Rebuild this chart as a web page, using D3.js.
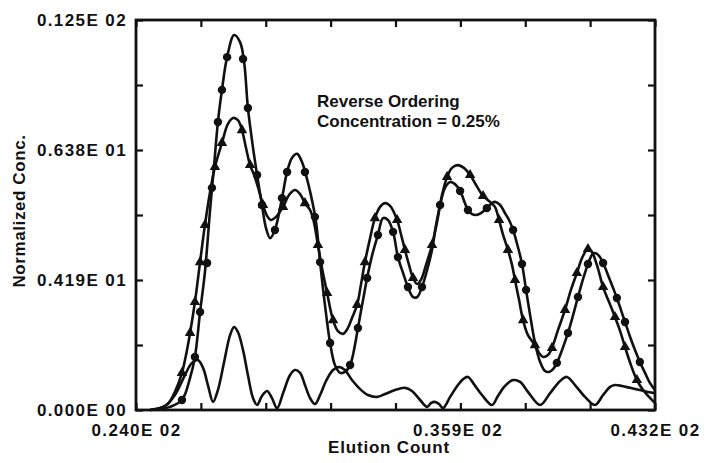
<!DOCTYPE html>
<head>
<meta charset="utf-8">
<title>Reverse Ordering</title>
<script src="https://d3js.org/d3.v7.min.js"></script>
<style>
  body { margin: 0; background: #fff; }
  #chart text { font-family: "Liberation Sans", Arial, sans-serif; font-weight: bold; fill: #111; }
</style>
</head>
<body>
<div id="chart"></div>
<script>

// fitted curve through the circle data (elution count, normalized conc.)
const circleCurve = [
  [24.52,0],[24.89,0.03],[25.26,0.10],[25.70,0.32],[26.00,1.03],[26.18,1.70],[26.37,3.14],
  [26.55,4.42],[26.74,6.41],[26.89,7.85],[27.03,9.23],[27.18,10.26],[27.37,11.31],[27.63,12.02],
  [27.85,11.79],[28.00,11.15],[28.14,9.68],[28.33,8.40],[28.48,7.53],[28.66,6.57],[28.81,5.83],
  [28.96,5.51],[29.14,5.77],[29.40,6.79],[29.59,7.63],[29.77,8.08],[29.96,8.21],[30.14,7.95],
  [30.29,7.53],[30.47,6.89],[30.66,6.03],[30.81,4.74],[30.99,3.37],[31.18,2.15],[31.36,1.44],
  [31.55,1.19],[31.73,1.22],[31.92,1.44],[32.10,2.08],[32.21,2.63],[32.40,3.53],[32.55,4.23],
  [32.73,4.94],[32.95,5.61],[33.14,6.15],[33.32,6.09],[33.51,5.71],[33.69,4.90],[33.88,4.39],
  [34.06,3.94],[34.25,3.62],[34.40,3.62],[34.58,3.94],[34.77,4.49],[34.95,5.13],[35.10,5.93],
  [35.25,6.57],[35.43,7.12],[35.62,7.31],[35.80,7.24],[35.99,7.02],[36.17,6.63],[36.28,6.41],
  [36.43,6.28],[36.58,6.25],[36.76,6.31],[36.98,6.47],[37.17,6.63],[37.28,6.67],[37.47,6.57],
  [37.65,6.31],[37.80,6.09],[37.95,5.77],[38.13,5.22],[38.28,4.68],[38.43,3.85],[38.58,3.04],
  [38.76,2.15],[38.95,1.54],[39.13,1.25],[39.28,1.22],[39.43,1.31],[39.57,1.51],[39.76,1.92],
  [39.98,2.47],[40.17,3.04],[40.35,3.62],[40.54,4.20],[40.72,4.68],[40.87,4.97],[40.98,5.03],
  [41.13,4.94],[41.28,4.71],[41.46,4.33],[41.65,3.91],[41.79,3.59],[41.94,3.21],[42.09,2.82],
  [42.28,2.34],[42.46,1.92],[42.64,1.54],[42.83,1.19],[43.01,0.87],[43.20,0.64]
];

const circleMarks = [
  [25.70,0.32],[26.18,1.70],[26.37,3.14],[26.63,4.71],[26.81,7.12],[27.03,9.23],[27.18,10.26],
  [27.37,11.31],[27.96,11.25],[28.14,9.68],[28.48,7.53],[28.66,6.57],[29.14,5.77],[29.40,6.79],
  [29.59,7.63],[30.25,7.63],[30.62,6.19],[30.81,4.74],[31.18,2.15],[31.92,1.44],[32.21,2.63],
  [32.55,4.23],[32.95,5.61],[33.51,5.71],[33.69,4.90],[34.06,3.94],[34.58,3.94],[35.25,6.57],
  [35.99,7.02],[36.28,6.41],[36.98,6.47],[37.95,5.77],[38.28,4.68],[38.43,3.85],[39.57,1.51],
  [39.98,2.47],[40.35,3.62],[40.72,4.68],[41.28,4.71],[41.79,3.59],[42.09,2.82],[42.64,1.54]
];

// fitted curve through the triangle data
const triangleCurve = [
  [24.52,0],[24.89,0.06],[25.18,0.19],[25.44,0.58],[25.70,1.19],[25.85,1.76],[26.00,2.47],
  [26.18,3.46],[26.37,4.74],[26.55,5.93],[26.74,6.99],[26.92,7.79],[27.18,8.56],[27.40,9.17],
  [27.59,9.36],[27.77,9.29],[27.92,8.97],[28.07,8.40],[28.22,7.85],[28.37,7.53],[28.51,7.15],
  [28.70,6.57],[28.85,6.22],[28.99,6.09],[29.18,6.19],[29.44,6.51],[29.66,6.89],[29.88,7.05],
  [30.07,6.92],[30.25,6.63],[30.44,6.41],[30.58,6.03],[30.73,5.29],[30.88,4.55],[31.07,3.75],
  [31.29,2.88],[31.47,2.53],[31.66,2.44],[31.84,2.63],[31.99,2.95],[32.18,3.37],[32.32,4.01],
  [32.47,4.74],[32.66,5.51],[32.84,6.15],[33.03,6.51],[33.21,6.63],[33.40,6.54],[33.66,6.09],
  [33.80,5.64],[33.95,5.13],[34.10,4.65],[34.25,4.23],[34.40,4.04],[34.54,4.17],[34.73,4.65],
  [34.95,5.29],[35.14,6.03],[35.32,6.89],[35.51,7.47],[35.69,7.76],[35.91,7.85],[36.13,7.76],
  [36.36,7.53],[36.58,7.21],[36.84,6.86],[37.10,6.67],[37.28,6.51],[37.43,6.09],[37.58,5.61],
  [37.76,5.13],[37.91,4.65],[38.02,4.17],[38.17,3.53],[38.32,2.88],[38.50,2.40],[38.76,2.08],
  [38.91,1.83],[39.06,1.70],[39.24,1.76],[39.39,1.99],[39.61,2.56],[39.87,3.21],[40.09,3.85],
  [40.31,4.39],[40.50,4.87],[40.72,5.16],[40.87,5.06],[41.05,4.65],[41.28,3.94],[41.50,3.46],
  [41.72,2.98],[41.91,2.53],[42.09,2.02],[42.31,1.44],[42.53,0.96],[42.76,0.64],[42.98,0.42],
  [43.20,0.22]
];

const triangleMarks = [
  [25.70,1.19],[26.00,2.47],[26.18,3.46],[26.37,4.74],[26.55,5.93],[26.92,7.79],[27.18,8.56],
  [27.92,8.97],[28.22,7.85],[28.70,6.57],[29.44,6.51],[30.25,6.63],[30.73,5.29],[31.07,3.75],
  [31.29,2.88],[32.18,3.37],[32.47,4.74],[32.84,6.15],[33.66,6.09],[33.95,5.13],[34.25,4.23],
  [34.95,5.29],[35.51,7.47],[36.36,7.53],[36.84,6.86],[37.43,6.09],[37.76,5.13],[38.02,4.17],
  [38.32,2.88],[38.76,2.08],[39.39,1.99],[39.87,3.21],[40.31,4.39],[40.72,5.16],[41.28,3.94],
  [41.72,2.98],[42.09,2.02],[42.53,0.96]
];

// difference curve along the bottom (no markers)
const diffCurve = [
  [24.52,0],[25.07,0.13],[25.44,0.48],[25.81,1.12],[26.07,1.51],[26.29,1.60],[26.48,1.35],
  [26.66,0.80],[26.85,0.26],[27.03,0.64],[27.26,1.54],[27.48,2.40],[27.63,2.66],[27.77,2.50],
  [27.96,1.92],[28.14,1.12],[28.33,0.38],[28.48,0.16],[28.66,0.45],[28.85,0.61],[29.03,0.38],
  [29.22,0.06],[29.44,0.54],[29.70,1.12],[29.88,1.28],[30.07,1.19],[30.25,0.80],[30.44,0.38],
  [30.62,0.19],[30.81,0.48],[31.03,0.93],[31.29,1.28],[31.51,1.38],[31.73,1.28],[31.99,0.96],
  [32.29,0.67],[32.58,0.48],[32.92,0.42],[33.21,0.51],[33.58,0.64],[33.95,0.71],[34.21,0.61],
  [34.51,0.32],[34.77,0.10],[34.91,0.22],[35.06,0.26],[35.21,0.19],[35.36,0.06],[35.62,0.42],
  [35.91,0.80],[36.10,0.99],[36.28,1.06],[36.50,0.83],[36.80,0.48],[37.17,0.16],[37.39,0.45],
  [37.65,0.77],[37.95,0.96],[38.21,0.90],[38.50,0.58],[38.95,0.16],[39.32,0.54],[39.69,0.93],
  [39.94,1.06],[40.24,0.80],[40.61,0.42],[40.98,0.16],[41.28,0.48],[41.54,0.74],[41.72,0.80],
  [41.98,0.77],[42.28,0.71],[42.64,0.64],[42.94,0.58],[43.20,0.54]
];

const xTicks = [24.0, 26.4, 28.8, 31.2, 33.6, 36.0, 38.4, 40.8, 43.2];
const yTicks = [0, 2.0833, 4.1667, 6.25, 8.3333, 10.4167, 12.5];
const xLabelValues = [24.0, 35.9, 43.2];
const xTickLabels = ["0.240E 02", "0.359E 02", "0.432E 02"];
const yLabelValues = [0, 4.1667, 8.3333, 12.5];
const yTickLabels = ["0.000E 00", "0.419E 01", "0.638E 01", "0.125E 02"];
const noteLines = ["Reverse Ordering", "Concentration = 0.25%"];


function createSVG() {
  return d3.select("#chart").append("svg")
    .attr("width", 705)
    .attr("height", 463);
}

function drawChart(svg) {
  const left = 136, right = 655, top = 20, bottom = 410;
  const x = d3.scaleLinear().domain([24.0, 43.2]).range([left, right]);
  const y = d3.scaleLinear().domain([0, 12.5]).range([bottom, top]);

  // inward ticks on all four sides
  const tickAxes = [
    [d3.axisBottom(x).tickValues(xTicks), `translate(0,${bottom})`],
    [d3.axisTop(x).tickValues(xTicks), `translate(0,${top})`],
    [d3.axisLeft(y).tickValues(yTicks), `translate(${left},0)`],
    [d3.axisRight(y).tickValues(yTicks), `translate(${right},0)`]
  ];
  tickAxes.forEach(([ax, tr]) => {
    const g = svg.append("g").attr("transform", tr)
      .call(ax.tickSize(-7).tickFormat(""));
    g.select(".domain").remove();
    g.selectAll("line").attr("stroke", "#111").attr("stroke-width", 2.2);
  });

  svg.append("rect")
    .attr("x", left).attr("y", top)
    .attr("width", right - left).attr("height", bottom - top)
    .attr("fill", "none").attr("stroke", "#111").attr("stroke-width", 2.8);

  // tick labels
  const xl = svg.append("g").attr("transform", `translate(0,${bottom})`)
    .call(d3.axisBottom(x).tickValues(xLabelValues).tickSize(0).tickPadding(14)
      .tickFormat((d, i) => xTickLabels[i]));
  xl.select(".domain").remove();
  xl.selectAll("text").attr("font-size", 17).attr("letter-spacing", "1.4px").attr("fill", "#111");

  const yl = svg.append("g").attr("transform", `translate(${left},0)`)
    .call(d3.axisLeft(y).tickValues(yLabelValues).tickSize(0).tickPadding(9)
      .tickFormat((d, i) => yTickLabels[i]));
  yl.select(".domain").remove();
  yl.selectAll("text").attr("font-size", 17).attr("letter-spacing", "1.4px").attr("fill", "#111");

  // axis titles
  svg.append("text")
    .attr("x", 389).attr("y", 453)
    .attr("text-anchor", "middle")
    .attr("font-size", 17).attr("letter-spacing", "0.8px")
    .text("Elution Count");

  svg.append("text")
    .attr("transform", "translate(25,211) rotate(-90)")
    .attr("text-anchor", "middle")
    .attr("font-size", 17).attr("letter-spacing", "0.6px")
    .text("Normalized Conc.");

  // note
  svg.append("g").selectAll("text")
    .data(noteLines)
    .join("text")
      .attr("x", 317)
      .attr("y", (d, i) => 107 + i * 19.5)
      .attr("font-size", 17)
      .text(d => d);

  // curves
  const line = d3.line()
    .x(d => x(d[0]))
    .y(d => y(d[1]))
    .curve(d3.curveCatmullRom.alpha(0.5));

  [diffCurve, triangleCurve, circleCurve].forEach(data => {
    svg.append("path")
      .datum(data)
      .attr("d", line)
      .attr("fill", "none")
      .attr("stroke", "#111")
      .attr("stroke-width", 2.6)
      .attr("stroke-linejoin", "round");
  });

  svg.append("g").selectAll("circle")
    .data(circleMarks)
    .join("circle")
      .attr("cx", d => x(d[0]))
      .attr("cy", d => y(d[1]))
      .attr("r", 4.2)
      .attr("fill", "#111");

  const tri = d3.symbol().type(d3.symbolTriangle).size(48);
  svg.append("g").selectAll("path")
    .data(triangleMarks)
    .join("path")
      .attr("transform", d => `translate(${x(d[0])},${y(d[1])})`)
      .attr("d", tri)
      .attr("fill", "#111");
}

let svg = createSVG();
drawChart(svg);

</script>
</body>
</html>
